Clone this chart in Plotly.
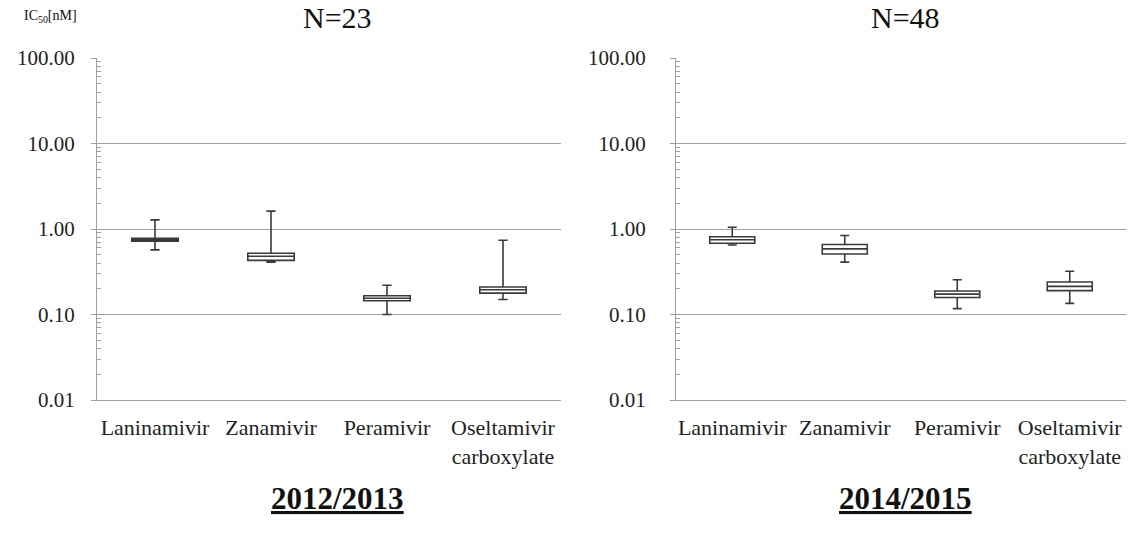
import plotly.graph_objects as go

categories = ["Laninamivir", "Zanamivir", "Peramivir", "Oseltamivir<br>carboxylate"]

# 2012/2013 (N=23)
s1_upper = [1.28, 1.62, 0.22, 0.74]
s1_q3 = [0.78, 0.52, 0.166, 0.21]
s1_median = [0.75, 0.48, 0.155, 0.195]
s1_q1 = [0.72, 0.43, 0.145, 0.178]
s1_lower = [0.57, 0.41, 0.10, 0.15]

# 2014/2015 (N=48)
s2_upper = [1.05, 0.84, 0.255, 0.32]
s2_q3 = [0.81, 0.66, 0.188, 0.24]
s2_median = [0.75, 0.585, 0.173, 0.213]
s2_q1 = [0.68, 0.51, 0.158, 0.19]
s2_lower = [0.65, 0.41, 0.117, 0.135]

titles = ["N=23", "N=48"]
seasons = ["2012/2013", "2014/2015"]
y_tickvals = [0.01, 0.1, 1, 10, 100]
y_ticktext = ["0.01", "0.10", "1.00", "10.00", "100.00"]

FONT = "Liberation Serif"
GRID = "#a0a0a0"
BOXLINE = "#3a3a3a"

fig = go.Figure()

data_sets = [
    (s1_lower, s1_q1, s1_median, s1_q3, s1_upper),
    (s2_lower, s2_q1, s2_median, s2_q3, s2_upper),
]
for i, (lo, q1, med, q3, up) in enumerate(data_sets):
    ax = "" if i == 0 else "2"
    fig.add_trace(go.Box(
        x=categories, lowerfence=lo, q1=q1, median=med, q3=q3, upperfence=up,
        xaxis="x" + ax, yaxis="y" + ax,
        fillcolor="white", line=dict(color=BOXLINE, width=1.6),
        width=0.4, whiskerwidth=0.2, boxpoints=False, showlegend=False,
        hoverinfo="skip",
    ))

domains_x = [[97 / 1130, 561 / 1130], [676 / 1130, 1126 / 1130]]
dom_y = [1 - 400 / 535, 1 - 58 / 535]
standoffs = [12, 20]
title_x = [337 / 1130, 905 / 1130]

for i in range(2):
    ax = "" if i == 0 else "2"
    fig.update_layout(**{
        "xaxis" + ax: dict(
            domain=domains_x[i], anchor="y" + ax, type="category",
            showline=True, linecolor=GRID, linewidth=1, mirror=False,
            showgrid=False, ticks="", tickfont=dict(family=FONT, size=22, color="#222"),
            ticklabelstandoff=8, range=[-0.5, 3.5], fixedrange=True, automargin=False,
        ),
        "yaxis" + ax: dict(
            domain=dom_y, anchor="x" + ax, type="log", range=[-2, 2],
            tickvals=y_tickvals, ticktext=y_ticktext,
            showline=True, linecolor=GRID, linewidth=1,
            showgrid=True, gridcolor=GRID, gridwidth=1,
            ticks="outside", ticklen=5, tickcolor=GRID,
            minor=dict(ticks="inside", ticklen=4, tickcolor=GRID, showgrid=False,
                       tickvals=[m * 10 ** e for e in range(-2, 2) for m in range(2, 10)]),
            tickfont=dict(family=FONT, size=21, color="#222"),
            ticklabelstandoff=standoffs[i], zeroline=False, fixedrange=True,
            automargin=False,
        ),
    })
    # category-axis tick marks where the axis crosses at 1.00
    for b in [0.5, 1.5, 2.5]:
        fig.add_shape(type="line", xref="x" + ax, yref="y" + ax,
                      x0=b, x1=b, ysizemode="pixel", yanchor=1, y0=0, y1=-6,
                      line=dict(color="#888", width=1))
    fig.add_annotation(text=titles[i], xref="paper", yref="paper", x=title_x[i], y=1 - 18 / 535,
                       showarrow=False, font=dict(family=FONT, size=30, color="#111"),
                       xanchor="center", yanchor="middle")
    fig.add_annotation(text="<b><u>" + seasons[i] + "</u></b>", xref="paper", yref="paper",
                       x=title_x[i], y=1 - 498 / 535, showarrow=False,
                       font=dict(family=FONT, size=31, color="#111"),
                       xanchor="center", yanchor="middle")

fig.add_annotation(text="IC<sub>50</sub>[nM]", xref="paper", yref="paper",
                   x=22 / 1130, y=1 - 16 / 535, showarrow=False, xanchor="left", yanchor="middle",
                   font=dict(family=FONT, size=14, color="#111"))

fig.update_layout(
    width=1130, height=535, margin=dict(l=0, r=0, t=0, b=0, autoexpand=False),
    paper_bgcolor="white", plot_bgcolor="white",
)

fig.write_html("out.html", config={"displayModeBar": False},
               post_script="document.body.style.margin='0px';")
